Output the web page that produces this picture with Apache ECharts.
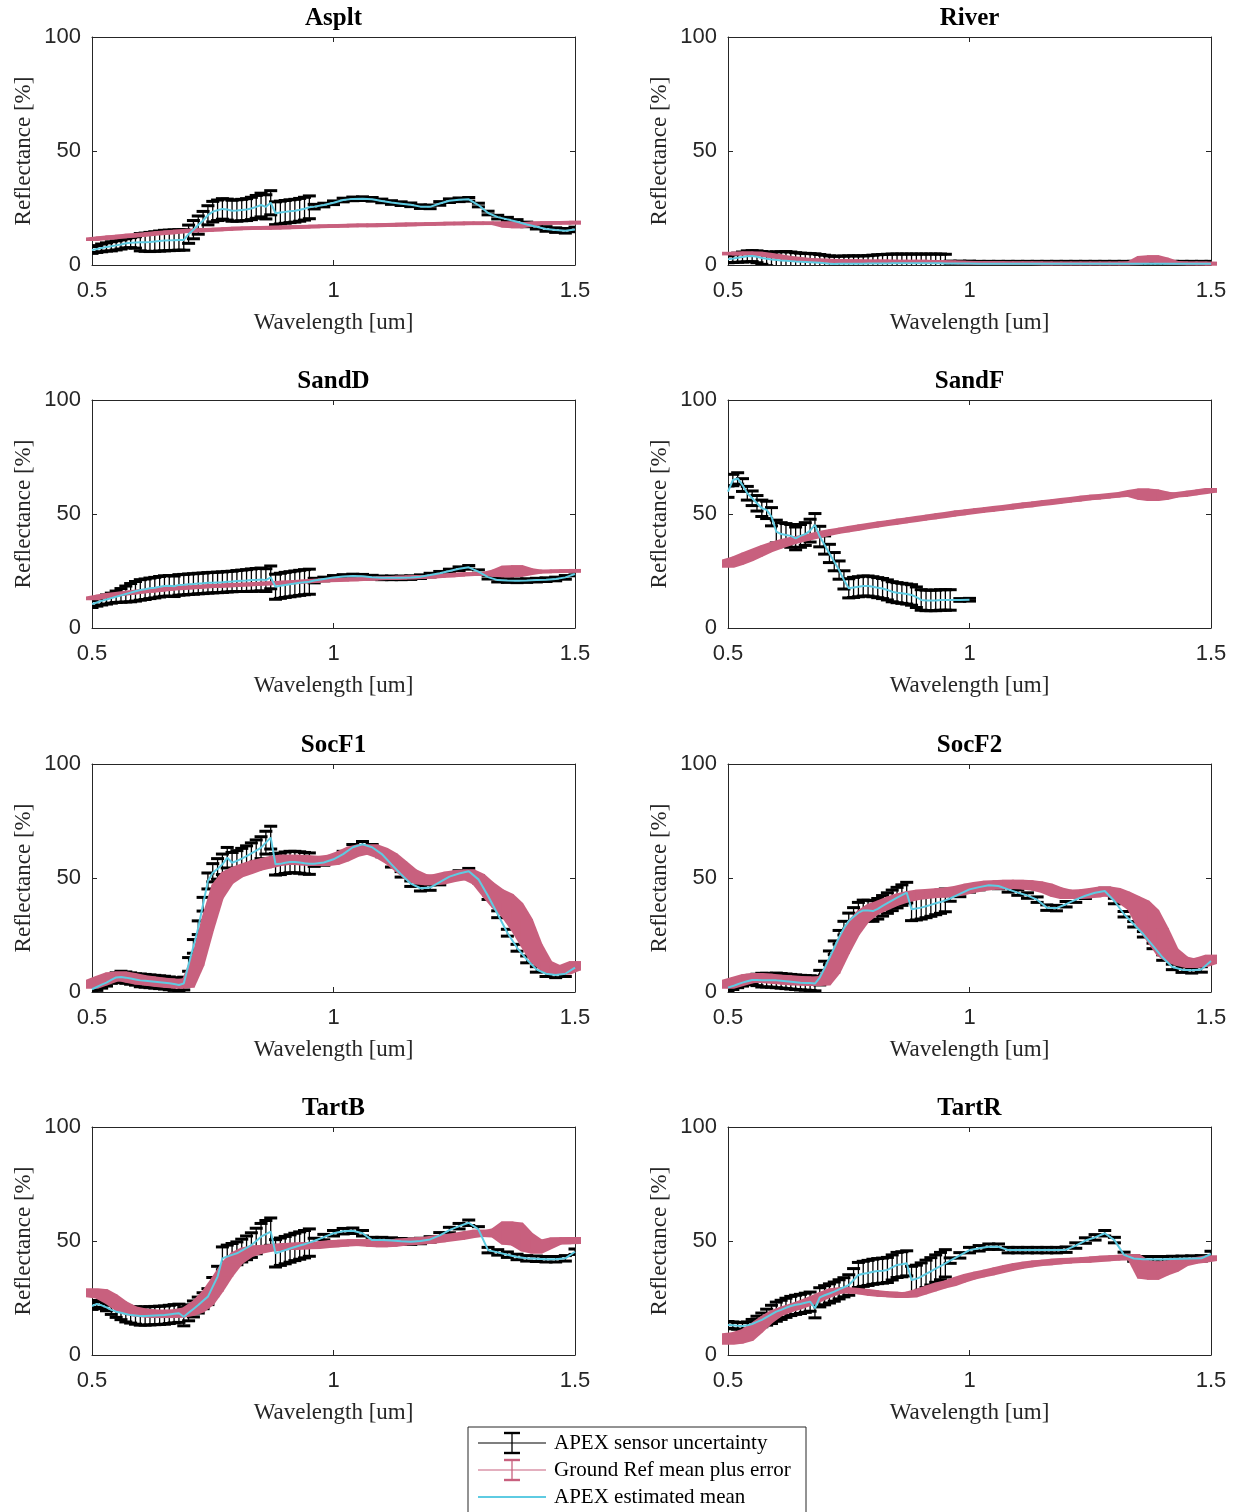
<!DOCTYPE html>
<html><head><meta charset="utf-8">
<script src="https://cdn.jsdelivr.net/npm/echarts@6/dist/echarts.min.js"></script>
<style>html,body{margin:0;padding:0;background:#fff}#c{width:1237px;height:1512px}</style>
</head><body><div id="c"></div><script>
// ---------- tick labels ----------
const xTicks = [0.5, 1, 1.5];
const yTicks = [0, 50, 100];
const panelNames = ['Asplt','River','SandD','SandF','SocF1','SocF2','TartB','TartR'];
const legendLabels = ['APEX sensor uncertainty','Ground Ref mean plus error','APEX estimated mean'];

// ---------- wavelengths (um) ----------
const apexWl = [
0.50,0.51,0.52,0.53,0.54,0.55,0.56,0.57,0.58,0.59,
0.60,0.61,0.62,0.63,0.64,0.65,0.66,0.67,0.68,0.69,
0.70,0.71,0.72,0.73,0.74,0.75,0.76,0.77,0.78,0.79,
0.80,0.81,0.82,0.83,0.84,0.85,0.86,0.87,
0.88,0.89,0.90,0.91,0.92,0.93,0.94,0.95,0.96,
0.98,1.00,1.02,1.04,1.06,1.08,1.10,1.12,1.14,1.16,
1.18,1.20,1.22,1.24,1.26,1.28,1.30,1.32,1.34,1.36,
1.38,1.40,1.42,1.44,1.46,1.48,1.50];
const groundWl = [
0.50,0.52,0.54,0.56,0.58,0.60,0.62,0.64,0.66,0.68,
0.70,0.72,0.74,0.76,0.78,0.80,0.82,0.84,0.86,0.88,
0.90,0.92,0.94,0.96,0.98,1.00,1.02,1.04,1.06,1.08,
1.10,1.12,1.14,1.16,1.18,1.20,1.22,1.24,1.26,1.28,
1.30,1.32,1.34,1.36,1.38,1.40,1.42,1.44,1.46,1.48,
1.50];

// ---------- Asplt ----------
const aspltApexMean = [
6.6,7.0,7.5,7.9,8.2,8.6,9.0,9.5,9.8,9.9,
10.0,10.0,10.1,10.3,10.5,10.7,10.8,10.9,11.0,11.0,
13.5,15.5,17.5,19.5,21.8,23.4,24.0,24.6,24.3,23.8,
23.9,24.1,24.3,24.8,25.5,26.3,25.5,27.3,
22.7,23.0,23.3,23.6,23.8,24.2,24.7,25.3,25.6,
26.3,27.3,28.5,29.0,29.1,28.8,28.1,27.4,26.9,26.4,
25.6,25.5,27.0,28.2,28.6,28.8,26.3,22.8,21.0,20.0,
19.0,17.8,16.8,15.8,15.3,15.0,15.6];
const aspltApexErr = [
1.5,1.5,1.7,1.8,2.0,2.0,2.0,2.0,2.2,2.5,
3.8,4.0,4.2,4.3,4.4,4.5,4.5,4.5,4.5,4.5,
4.0,4.0,4.0,4.0,4.2,4.5,4.5,4.5,4.6,4.6,
4.7,4.7,4.8,4.9,5.0,5.2,5.3,5.3,
5.0,5.0,5.0,5.0,5.0,5.0,5.0,5.0,1.0,
0.8,0.8,0.8,0.8,0.8,0.8,0.8,0.8,0.8,0.8,
0.8,0.8,0.8,0.8,0.8,0.8,0.8,0.8,0.8,0.9,
0.9,1.0,1.0,1.0,1.0,1.0,1.0];
const aspltGroundMean = [
11.3,11.7,12.1,12.5,12.9,13.2,13.6,14.0,14.3,14.7,
15.0,15.2,15.4,15.6,15.8,16.0,16.1,16.2,16.3,16.4,
16.5,16.6,16.8,16.9,17.0,17.1,17.2,17.3,17.4,17.4,
17.5,17.6,17.7,17.8,17.9,18.0,18.1,18.2,18.2,18.3,
18.3,18.3,18.3,17.8,17.5,17.8,18.3,18.4,18.5,18.5,
18.6];
const aspltGroundErr = [
0.7,0.7,0.7,0.7,0.7,0.7,0.7,0.7,0.7,0.7,
0.7,0.7,0.7,0.7,0.7,0.7,0.7,0.7,0.7,0.7,
0.7,0.7,0.7,0.7,0.7,0.7,0.7,0.7,0.7,0.7,
0.7,0.7,0.7,0.7,0.7,0.7,0.7,0.7,0.7,0.7,
0.7,0.7,0.8,1.3,1.4,1.0,0.7,0.7,0.7,0.7,
0.7];

// ---------- River ----------
const riverApexMean = [
2.5,2.8,3.2,3.5,3.8,3.9,3.6,3.1,2.7,2.4,
2.2,2.0,1.9,1.7,1.5,1.4,1.3,1.2,1.1,1.0,
0.8,0.6,0.4,0.5,0.5,0.6,0.6,0.6,0.6,0.7,
0.7,0.7,0.7,0.7,0.8,0.8,0.8,0.8,
0.8,0.8,0.8,0.8,0.8,0.8,0.8,0.7,0.7,
0.7,0.7,0.6,0.6,0.6,0.6,0.6,0.6,0.6,0.6,
0.6,0.6,0.6,0.6,0.6,0.6,0.6,0.6,0.6,0.6,
0.6,0.6,0.6,0.6,0.6,0.6,0.6];
const riverApexErr = [
1.5,1.7,2.0,2.2,2.4,2.4,2.6,2.8,3.0,3.2,
3.6,3.8,4.0,4.0,3.9,3.8,3.8,3.8,3.8,3.6,
3.5,3.4,3.4,3.4,3.4,3.4,3.4,3.4,3.4,3.4,
3.6,3.8,3.9,4.0,4.0,4.0,4.0,4.0,
4.0,4.0,4.0,4.0,4.0,4.0,4.0,4.0,1.0,
1.0,1.0,1.0,1.0,1.0,1.0,1.0,1.0,1.0,1.0,
1.0,1.0,1.0,1.0,1.0,1.0,1.0,1.0,1.0,1.0,
1.0,1.0,1.0,1.0,1.0,1.0,1.0];
const riverGroundMean = [
5.0,5.0,5.1,5.0,4.5,3.8,3.2,2.7,2.3,2.0,
1.9,1.8,1.7,1.7,1.6,1.6,1.6,1.5,1.5,1.5,
1.5,1.4,1.3,1.2,1.1,1.0,0.9,0.9,0.9,0.8,
0.8,0.8,0.8,0.7,0.7,0.7,0.7,0.7,0.7,0.7,
0.7,0.7,0.8,2.5,2.8,2.0,1.0,0.8,0.7,0.7,
0.6];
const riverGroundErr = [
0.8,0.8,0.8,0.8,0.8,0.8,0.8,0.8,0.8,0.8,
0.6,0.6,0.6,0.6,0.6,0.6,0.6,0.6,0.6,0.6,
0.6,0.6,0.6,0.6,0.6,0.6,0.6,0.6,0.6,0.6,
0.6,0.6,0.6,0.6,0.6,0.6,0.6,0.6,0.6,0.6,
0.6,0.6,0.8,1.5,1.5,1.2,0.6,0.6,0.6,0.6,
0.6];

// ---------- SandD ----------
const sanddApexMean = [
10.5,11.2,11.9,12.5,13.1,13.7,14.3,14.9,15.5,16.1,
16.7,17.0,17.4,17.7,18.1,18.4,18.5,18.3,18.9,19.0,
19.2,19.3,19.5,19.6,19.8,19.9,20.0,20.1,20.3,20.4,
20.6,20.7,20.8,21.0,21.1,21.3,21.0,22.2,
18.1,18.5,18.9,19.2,19.5,19.8,20.1,20.3,20.8,
21.5,22.2,22.6,22.8,22.7,22.3,22.0,22.0,22.0,22.1,
22.5,23.2,24.0,25.0,26.0,26.6,24.7,22.3,21.0,20.8,
20.7,20.8,21.0,21.2,21.5,22.2,23.7];
const sanddApexErr = [
1.5,1.6,1.8,2.0,2.2,2.5,3.0,3.5,4.0,4.3,
4.5,4.5,4.5,4.5,4.5,4.5,4.5,4.5,4.5,4.5,
4.5,4.5,4.5,4.5,4.5,4.5,4.5,4.5,4.5,4.5,
4.6,4.7,4.8,4.9,5.0,5.0,5.0,5.0,
5.5,5.5,5.5,5.5,5.5,5.5,5.5,5.5,1.0,
0.8,0.8,0.8,0.8,0.8,0.8,0.8,0.8,0.8,0.8,
0.8,0.8,0.8,0.8,0.8,0.8,0.8,0.8,0.8,0.8,
0.8,0.8,0.8,0.8,0.8,0.8,0.8];
const sanddGroundMean = [
13.0,13.8,14.5,15.0,15.5,16.0,16.4,16.8,17.2,17.5,
17.8,18.0,18.3,18.5,18.7,18.9,19.1,19.3,19.5,19.7,
19.9,20.1,20.4,20.7,20.9,21.0,21.2,21.3,21.5,21.6,
21.8,21.9,22.1,22.2,22.4,22.5,22.8,23.1,23.4,23.6,
23.7,23.8,24.0,24.8,25.0,24.7,24.7,24.8,24.9,25.0,
25.1];
const sanddGroundErr = [
0.8,0.8,0.8,0.8,0.8,0.8,0.8,0.8,0.8,0.8,
0.8,0.8,0.8,0.8,0.8,0.8,0.8,0.8,0.8,0.8,
0.8,0.8,0.8,0.8,0.8,0.8,0.8,0.8,0.8,0.8,
0.8,0.8,0.8,0.8,0.8,0.8,0.8,0.8,0.8,0.8,
0.8,0.8,1.5,2.5,2.5,1.5,0.8,0.8,0.8,0.8,
0.8];

// ---------- SandF ----------
const sandfApexMean = [
59.8,64.9,65.6,62.7,59.1,56.9,54.7,52.5,51.8,48.8,
42.3,41.2,40.8,40.4,39.3,40.4,41.2,42.7,45.2,40.1,
36.4,32.7,29.1,25.4,21.1,17.4,17.8,18.1,18.4,18.4,
18.1,17.7,17.3,16.7,15.9,15.5,15.2,14.9,
14.5,13.5,12.3,12.1,12.1,12.1,12.3,12.3,12.3,
12.3,12.4,null,null,null,null,null,null,null,null,
null,null,null,null,null,null,null,null,null,null,
null,null,null,null,null,null,null];
const sandfApexErr = [
2.5,2.5,2.5,2.8,3.0,3.2,3.4,3.6,3.8,4.0,
5.0,5.0,5.0,5.0,5.0,5.0,5.0,5.0,5.0,4.5,
4.0,4.0,4.0,4.0,4.0,4.2,4.4,4.4,4.4,4.4,
4.4,4.4,4.4,4.4,4.4,4.4,4.4,4.4,
4.5,4.5,4.5,4.5,4.5,4.5,4.5,4.5,4.5,
0.6,0.6,null,null,null,null,null,null,null,null,
null,null,null,null,null,null,null,null,null,null,
null,null,null,null,null,null,null];
const sandfGroundMean = [
28.2,29.5,31.2,33.0,34.8,36.3,37.6,38.7,39.6,40.5,
41.5,42.3,43.0,43.7,44.4,45.1,45.7,46.3,46.9,47.5,
48.1,48.7,49.3,49.9,50.5,51.0,51.5,52.0,52.5,53.0,
53.5,54.0,54.5,55.0,55.5,56.0,56.5,57.0,57.4,57.8,
58.2,58.6,59.0,58.7,58.2,58.0,58.2,58.6,59.2,59.8,
60.4];
const sandfGroundErr = [
1.8,1.8,1.8,1.6,1.5,1.4,1.3,1.2,1.1,1.0,
1.0,1.0,1.0,1.0,1.0,1.0,1.0,1.0,1.0,1.0,
1.0,1.0,1.0,1.0,1.0,1.0,1.0,1.0,1.0,1.0,
1.0,1.0,1.0,1.0,1.0,1.0,1.0,1.0,1.0,1.0,
1.0,1.0,1.5,2.5,2.5,1.8,1.0,1.0,1.0,1.0,
1.0];

// ---------- SocF1 ----------
const socf1ApexMean = [
1.2,2.2,3.2,4.1,5.3,6.4,6.6,6.3,5.9,5.5,
5.1,4.9,4.7,4.5,4.3,4.1,3.8,3.5,3.1,3.7,
12.1,20.0,28.2,38.5,48.7,52.3,54.0,56.0,58.9,56.7,
57.5,58.5,59.6,60.8,62.0,63.3,65.5,67.7,
56.0,56.2,56.7,57.0,57.0,56.8,56.5,56.3,56.3,
56.8,58.2,60.5,63.5,64.8,63.5,60.5,56.0,51.6,47.5,
45.5,45.8,48.2,50.6,52.0,53.0,49.4,42.1,34.1,26.0,
19.4,14.3,9.9,8.0,7.5,8.0,10.7];
const socf1ApexErr = [
1.5,1.5,1.5,1.5,1.5,2.0,2.5,2.5,2.5,2.5,
2.8,2.8,2.8,2.8,2.8,2.8,2.8,2.8,2.8,2.8,
3.0,3.0,3.0,3.0,3.5,4.0,4.5,4.5,4.5,4.5,
4.5,4.5,4.5,4.6,4.7,4.8,5.0,5.0,
4.7,4.7,4.7,4.7,4.7,4.7,4.7,4.7,1.2,
1.2,1.2,1.2,1.2,1.2,1.2,1.2,1.2,1.2,1.2,
1.2,1.2,1.2,1.2,1.2,1.2,1.5,1.5,1.5,1.5,
1.5,1.5,1.2,1.2,1.2,1.2,1.2];
const socf1GroundMean = [
3.4,5.0,6.5,7.0,6.2,5.3,4.8,4.3,3.9,3.5,
4.0,14.0,30.0,44.0,50.0,52.5,54.0,55.5,56.5,57.5,
58.0,58.0,57.8,57.5,57.5,58.0,59.5,61.5,62.5,62.5,
61.0,58.5,55.0,51.5,49.5,49.0,49.5,50.5,51.2,51.5,
49.5,45.0,41.0,38.0,33.0,26.0,17.0,11.5,9.5,9.8,
11.5];
const socf1GroundErr = [
2.0,2.0,2.0,2.0,2.0,2.0,2.0,2.0,2.0,2.0,
2.0,2.5,3.0,3.0,2.5,2.2,2.2,2.2,2.2,2.2,
2.2,2.2,2.2,2.2,2.2,2.2,2.2,2.2,2.2,2.2,
2.2,2.2,2.2,2.2,2.2,2.2,2.2,2.2,2.2,2.2,
2.2,3.0,4.0,5.0,6.0,6.0,4.0,2.0,2.0,2.0,
2.0];

// ---------- SocF2 ----------
const socf2ApexMean = [
1.9,2.6,3.4,4.1,4.7,5.3,5.3,5.2,5.2,5.1,
5.1,4.9,4.7,4.5,4.3,4.1,4.0,3.9,3.7,6.3,
10.5,15.0,19.4,24.0,28.0,31.1,33.0,34.8,35.8,35.7,
35.5,36.5,37.8,39.0,40.2,41.4,42.5,43.6,
36.3,36.6,37.0,37.6,38.2,38.9,39.5,40.2,41.0,
43.0,45.0,46.0,46.8,46.5,45.0,43.6,42.3,40.5,37.0,
36.8,38.5,40.5,42.2,43.5,44.3,39.9,34.1,29.7,25.3,
20.2,15.1,11.0,9.8,9.5,9.9,13.6];
const socf2ApexErr = [
1.5,1.5,1.5,1.5,1.5,2.0,2.5,3.0,3.0,3.0,
3.2,3.2,3.2,3.2,3.2,3.2,3.2,3.2,3.2,3.2,
3.0,3.0,3.0,3.0,3.0,3.5,4.0,4.5,4.5,4.5,
4.5,4.5,4.5,4.5,4.5,4.5,4.5,4.5,
5.0,5.0,5.0,5.0,5.0,5.0,5.0,5.0,1.2,
1.2,1.2,1.2,1.2,1.2,1.2,1.2,1.2,1.2,1.2,
1.2,1.2,1.2,1.2,1.2,1.2,1.2,1.2,1.2,1.2,
1.2,1.2,1.2,1.2,1.2,1.2,1.2];
const socf2GroundMean = [
3.4,4.6,5.8,6.3,6.0,5.6,5.3,5.0,4.8,4.6,
5.0,10.7,20.0,28.0,33.3,36.3,38.0,39.8,41.2,42.2,
42.8,43.2,43.5,43.8,44.5,45.5,46.3,46.8,47.0,47.2,
47.2,47.0,46.5,45.5,43.8,42.8,42.8,43.1,43.6,44.3,
43.6,41.5,39.0,34.0,29.0,22.0,16.0,13.5,12.5,13.0,
14.3];
const socf2GroundErr = [
2.0,2.0,2.0,2.0,2.0,2.0,2.0,2.0,2.0,2.0,
2.0,2.5,3.0,3.0,2.5,2.2,2.0,2.0,2.0,2.0,
2.0,2.0,2.0,2.0,2.0,2.0,2.0,2.0,2.0,2.0,
2.0,2.0,2.0,2.0,2.0,2.0,2.0,2.0,2.0,2.0,
2.0,2.5,3.0,6.0,7.0,6.0,3.0,2.0,2.0,2.0,
2.0];

// ---------- TartB ----------
const tartbApexMean = [
21.5,22.4,21.8,20.9,19.8,19.0,18.5,18.0,17.5,17.3,
17.1,17.1,17.2,17.3,17.4,17.5,17.8,18.1,18.3,16.8,
18.5,20.2,21.9,23.8,25.6,30.0,34.4,42.4,43.2,43.9,
44.6,45.8,47.0,48.2,50.0,51.9,53.0,54.1,
44.6,45.3,46.0,46.7,47.4,48.0,48.6,49.3,50.0,
51.7,53.4,54.3,54.5,53.4,50.4,50.4,50.2,49.9,49.7,
50.0,50.7,52.5,54.8,56.5,58.0,55.1,46.0,45.0,44.0,
43.0,42.4,42.2,42.0,42.0,42.4,45.3];
const tartbApexErr = [
1.5,1.5,1.5,1.5,2.0,2.5,3.0,3.5,3.5,3.8,
4.0,4.0,4.0,4.0,4.0,4.0,4.0,4.0,4.0,4.0,
3.5,3.5,3.5,3.5,3.5,4.0,4.5,5.0,5.0,5.0,
5.0,5.0,5.2,5.4,5.6,5.8,6.0,6.0,
6.0,6.0,6.0,6.0,6.0,6.0,6.0,6.0,1.2,
1.2,1.2,1.2,1.2,1.2,1.2,1.2,1.2,1.2,1.2,
1.2,1.2,1.2,1.2,1.2,1.2,1.2,1.2,1.2,1.2,
1.2,1.2,1.2,1.2,1.2,1.2,1.2];
const tartbGroundMean = [
27.3,26.8,24.5,21.5,19.5,18.6,18.2,18.0,18.0,18.3,
19.0,21.2,25.0,31.0,37.5,42.5,45.0,46.2,46.8,47.2,
47.5,47.7,47.9,48.0,48.4,48.8,49.1,49.3,49.3,49.0,
48.8,49.0,49.5,49.8,50.1,50.4,51.0,51.5,52.0,52.8,
53.4,53.2,53.5,53.5,53.0,49.5,47.5,48.5,50.0,50.1,
50.2];
const tartbGroundErr = [
2.0,2.0,2.0,2.0,1.8,1.8,1.8,1.8,1.8,1.8,
1.8,2.5,3.0,3.0,3.0,2.5,2.0,1.8,1.5,1.5,
1.5,1.5,1.5,1.5,1.5,1.5,1.5,1.5,1.5,1.5,
1.5,1.5,1.5,1.5,1.5,1.5,1.5,1.5,1.5,1.5,
1.5,1.5,2.0,5.0,5.0,4.0,3.0,2.0,1.5,1.5,
1.5];

// ---------- TartR ----------
const tartrApexMean = [
13.2,13.0,12.8,12.7,13.0,13.6,14.5,15.4,16.6,17.8,
19.0,19.8,20.7,21.5,22.0,22.4,22.9,23.4,20.5,25.3,
26.2,27.0,27.8,28.8,29.7,30.7,32.9,35.1,35.6,36.0,
36.5,36.8,37.0,37.3,38.4,39.5,39.8,40.2,
32.9,33.4,34.4,35.6,36.7,37.9,39.0,40.2,41.4,
43.7,46.0,46.8,47.5,47.5,46.0,46.0,46.0,46.0,46.0,
46.0,46.2,48.0,50.2,51.6,53.4,50.4,43.9,42.3,42.0,
42.0,42.0,42.1,42.2,42.3,42.4,44.3];
const tartrApexErr = [
1.5,1.5,1.5,1.5,1.5,2.0,2.5,3.0,3.5,4.0,
4.2,4.2,4.2,4.2,4.2,4.2,4.2,4.2,4.2,4.2,
4.2,4.2,4.2,4.2,4.2,4.5,5.0,5.5,5.5,5.5,
5.5,5.5,5.5,5.5,5.5,5.5,5.5,5.5,
6.0,6.0,6.0,6.0,6.0,6.0,6.0,6.0,1.2,
1.2,1.2,1.2,1.2,1.2,1.2,1.2,1.2,1.2,1.2,
1.2,1.2,1.2,1.2,1.2,1.2,1.2,1.2,1.2,1.2,
1.2,1.2,1.2,1.2,1.2,1.2,1.2];
const tartrGroundMean = [
7.0,7.5,8.8,12.0,15.5,18.3,20.0,21.3,22.8,24.5,
26.3,28.0,28.5,28.2,27.8,27.2,26.8,26.5,26.2,26.5,
27.8,29.2,30.5,31.5,33.0,34.3,35.3,36.2,37.2,38.2,
39.0,39.7,40.2,40.6,41.0,41.3,41.5,41.7,42.0,42.3,
42.6,42.8,43.0,37.5,37.0,38.0,39.0,40.5,41.2,41.8,
42.4];
const tartrGroundErr = [
2.5,2.5,2.5,2.0,1.5,1.2,1.2,1.2,1.2,1.2,
1.2,1.2,1.2,1.2,1.2,1.2,1.2,1.2,1.2,1.2,
1.2,1.2,1.2,1.2,1.2,1.2,1.2,1.2,1.2,1.2,
1.2,1.2,1.2,1.2,1.2,1.2,1.2,1.2,1.2,1.2,
1.2,1.2,1.2,4.0,4.0,3.0,2.5,1.5,1.2,1.2,
1.2];

const panelData = [
  [aspltApexMean, aspltApexErr, aspltGroundMean, aspltGroundErr],
  [riverApexMean, riverApexErr, riverGroundMean, riverGroundErr],
  [sanddApexMean, sanddApexErr, sanddGroundMean, sanddGroundErr],
  [sandfApexMean, sandfApexErr, sandfGroundMean, sandfGroundErr],
  [socf1ApexMean, socf1ApexErr, socf1GroundMean, socf1GroundErr],
  [socf2ApexMean, socf2ApexErr, socf2GroundMean, socf2GroundErr],
  [tartbApexMean, tartbApexErr, tartbGroundMean, tartbGroundErr],
  [tartrApexMean, tartrApexErr, tartrGroundMean, tartrGroundErr]
];

// ---------- styling ----------
const AX = '#262626';
const PINK = '#c8607e';
const CYAN = '#5ecbe2';
const SERIF = '"Liberation Serif", "DejaVu Serif", serif';
const SANS = '"Liberation Sans", Arial, sans-serif';
const colLeft = [92, 728];
const rowTop = [37, 400, 764, 1127];
const PW = 483, PH = 228;

function apexRender(params, api) {
  const x = api.value(0), m = api.value(1), e = api.value(2);
  const t = api.coord([x, m + e]), b = api.coord([x, m - e]);
  const hw = 6.5;
  return {type: 'group', children: [
    {type: 'line', shape: {x1: t[0], y1: t[1], x2: b[0], y2: b[1]}, style: {stroke: '#000', lineWidth: 1.3}},
    {type: 'line', shape: {x1: t[0] - hw, y1: t[1], x2: t[0] + hw, y2: t[1]}, style: {stroke: '#000', lineWidth: 3}},
    {type: 'line', shape: {x1: b[0] - hw, y1: b[1], x2: b[0] + hw, y2: b[1]}, style: {stroke: '#000', lineWidth: 3}}
  ]};
}
function hull(pts) {
  pts.sort(function (a, b) { return a[0] - b[0] || a[1] - b[1]; });
  function cross(o, a, b) { return (a[0] - o[0]) * (b[1] - o[1]) - (a[1] - o[1]) * (b[0] - o[0]); }
  const lower = [], upper = [];
  for (let i = 0; i < pts.length; i++) {
    while (lower.length >= 2 && cross(lower[lower.length - 2], lower[lower.length - 1], pts[i]) <= 0) lower.pop();
    lower.push(pts[i]);
  }
  for (let i = pts.length - 1; i >= 0; i--) {
    while (upper.length >= 2 && cross(upper[upper.length - 2], upper[upper.length - 1], pts[i]) <= 0) upper.pop();
    upper.push(pts[i]);
  }
  upper.pop(); lower.pop();
  return lower.concat(upper);
}
function makePink(data) {
  const hw = 6;
  function box(api, d) {
    const c = api.coord([d[0], d[1]]);
    const t = api.coord([d[0], d[1] + d[2]]), b = api.coord([d[0], d[1] - d[2]]);
    const h = Math.max(b[1] - t[1], 3.6) / 2;
    return [[c[0] - hw, c[1] - h], [c[0] + hw, c[1] - h], [c[0] + hw, c[1] + h], [c[0] - hw, c[1] + h]];
  }
  return function (params, api) {
    const j = params.dataIndex;
    let pts = box(api, data[j]);
    if (j < data.length - 1) pts = pts.concat(box(api, data[j + 1]));
    return {type: 'polygon', shape: {points: hull(pts)}, style: {fill: PINK}};
  };
}

const grids = [], xAxes = [], yAxes = [], series = [], graphics = [];
panelNames.forEach(function (name, i) {
  const col = i % 2, row = Math.floor(i / 2);
  const left = colLeft[col], top = rowTop[row];
  grids.push({left: left, top: top, width: PW, height: PH, containLabel: false});
  const baseX = {gridIndex: i, type: 'value', min: xTicks[0], max: xTicks[xTicks.length - 1], interval: xTicks[1] - xTicks[0],
    axisLine: {show: true, onZero: false, lineStyle: {color: AX, width: 1}},
    axisTick: {show: true, inside: true, length: 5, lineStyle: {color: AX}},
    splitLine: {show: false}};
  xAxes.push(Object.assign({}, baseX, {position: 'bottom',
    axisLabel: {show: true, margin: 15, color: AX, fontSize: 22, fontFamily: SANS, showMinLabel: true, showMaxLabel: true},
    name: 'Wavelength [um]', nameLocation: 'middle', nameGap: 46,
    nameTextStyle: {fontFamily: SERIF, fontSize: 23, color: AX}}));
  xAxes.push(Object.assign({}, baseX, {position: 'top', axisLabel: {show: false}}));
  const baseY = {gridIndex: i, type: 'value', min: yTicks[0], max: yTicks[yTicks.length - 1], interval: yTicks[1] - yTicks[0],
    axisLine: {show: true, onZero: false, lineStyle: {color: AX, width: 1}},
    axisTick: {show: true, inside: true, length: 5, lineStyle: {color: AX}},
    splitLine: {show: false}};
  yAxes.push(Object.assign({}, baseY, {position: 'left',
    axisLabel: {show: true, margin: 11, color: AX, fontSize: 22, fontFamily: SANS, showMinLabel: true, showMaxLabel: true},
    name: 'Reflectance [%]', nameLocation: 'middle', nameGap: 57, nameRotate: 90,
    nameTextStyle: {fontFamily: SERIF, fontSize: 23, color: AX}}));
  yAxes.push(Object.assign({}, baseY, {position: 'right', axisLabel: {show: false}}));

  const pd = panelData[i];
  const apexBars = [];
  apexWl.forEach(function (w, j) { if (pd[0][j] !== null) apexBars.push([w, pd[0][j], pd[1][j]]); });
  const groundBand = groundWl.map(function (w, j) { return [w, pd[2][j], pd[3][j]]; });
  const meanLine = apexWl.map(function (w, j) { return [w, pd[0][j]]; });

  series.push({type: 'custom', xAxisIndex: 2 * i, yAxisIndex: 2 * i, renderItem: apexRender, data: apexBars, clip: true, z: 2, silent: true});
  series.push({type: 'custom', xAxisIndex: 2 * i, yAxisIndex: 2 * i, renderItem: makePink(groundBand), data: groundBand, clip: false, z: 3, silent: true});
  series.push({type: 'line', xAxisIndex: 2 * i, yAxisIndex: 2 * i, data: meanLine, showSymbol: false, symbol: 'none',
    lineStyle: {color: CYAN, width: 2}, connectNulls: false, z: 4, silent: true});

  graphics.push({type: 'text', x: left + PW / 2, y: top - 18,
    style: {text: name, fontFamily: SERIF, fontWeight: 'bold', fontSize: 25, fill: '#000', textAlign: 'center', textVerticalAlign: 'middle'}});
});

// legend
const LX = 468, LY = 1427;
graphics.push({type: 'rect', shape: {x: LX, y: LY, width: 338, height: 100}, style: {fill: '#fff', stroke: AX, lineWidth: 1}, z: 10});
const legRows = [1443, 1470, 1497];
const legColors = ['#000', PINK, CYAN];
legRows.forEach(function (y, k) {
  graphics.push({type: 'line', shape: {x1: 478, y1: y, x2: 546, y2: y}, style: {stroke: legColors[k], lineWidth: k === 2 ? 2.2 : 1.2}, z: 11});
  if (k < 2) {
    graphics.push({type: 'line', shape: {x1: 512, y1: y - 10, x2: 512, y2: y + 10}, style: {stroke: legColors[k], lineWidth: 1.3}, z: 11});
    graphics.push({type: 'line', shape: {x1: 504, y1: y - 10, x2: 520, y2: y - 10}, style: {stroke: legColors[k], lineWidth: 2.4}, z: 11});
    graphics.push({type: 'line', shape: {x1: 504, y1: y + 10, x2: 520, y2: y + 10}, style: {stroke: legColors[k], lineWidth: 2.4}, z: 11});
  }
  graphics.push({type: 'text', x: 554, y: y, z: 11,
    style: {text: legendLabels[k], fontFamily: SERIF, fontSize: 21, fill: '#000', textAlign: 'left', textVerticalAlign: 'middle'}});
});

const chart = echarts.init(document.getElementById('c'), null, {renderer: 'canvas'});
chart.setOption({
  animation: false,
  backgroundColor: '#fff',
  grid: grids, xAxis: xAxes, yAxis: yAxes, series: series, graphic: graphics
});
</script></body></html>
